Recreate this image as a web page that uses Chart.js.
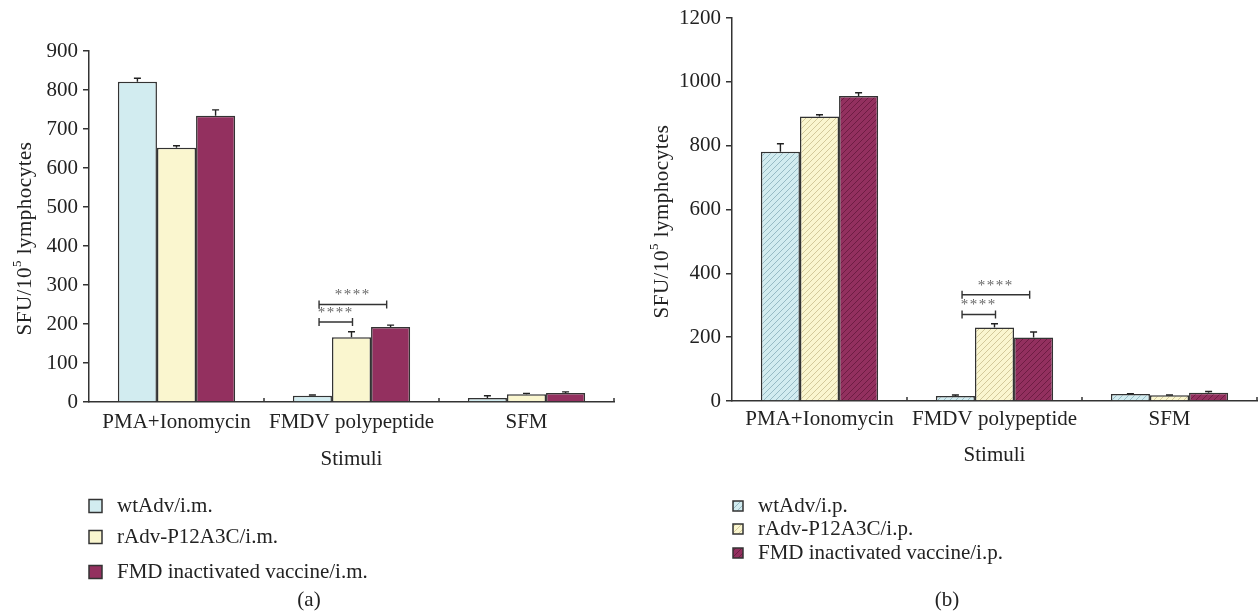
<!DOCTYPE html>
<html>
<head>
<meta charset="utf-8">
<script src="https://cdn.jsdelivr.net/npm/chart.js@4"></script>
<style>
  body { margin: 0; background: #fff; }
  #wrap { position: relative; width: 1260px; height: 614px; }
  canvas { position: absolute; top: 0; }
  #chartA { left: 0; }
  #chartB { left: 630px; }
</style>
</head>
<body>
<div id="wrap">
  <canvas id="chartA" width="630" height="614"></canvas>
  <canvas id="chartB" width="630" height="614"></canvas>
</div>
<script>
// Stimuli on the x axis
const categories = ['PMA+Ionomycin', 'FMDV polypeptide', 'SFM'];

// (a) intramuscular groups
const labelsA = ['wtAdv/i.m.', 'rAdv-P12A3C/i.m.', 'FMD inactivated vaccine/i.m.'];
const wtAdvA = [821, 16, 10];
const wtAdvAErr = [9, 2, 6];
const rAdvA = [652, 166, 20];
const rAdvAErr = [5, 14, 2];
const fmdA = [734, 192, 23];
const fmdAErr = [15, 5, 3];
const yTicksA = [0, 100, 200, 300, 400, 500, 600, 700, 800, 900];
// significance brackets: dataset from -> to, within category, at value y
const bracketsA = [
  { cat: 1, from: 0, to: 1, y: 205, text: '****' },
  { cat: 1, from: 0, to: 2, y: 250, text: '****' }
];

// (b) intraperitoneal groups
const labelsB = ['wtAdv/i.p.', 'rAdv-P12A3C/i.p.', 'FMD inactivated vaccine/i.p.'];
const wtAdvB = [781, 16, 22];
const wtAdvBErr = [25, 3, 1];
const rAdvB = [891, 230, 18];
const rAdvBErr = [6, 12, 1];
const fmdB = [956, 199, 26];
const fmdBErr = [10, 17, 4];
const yTicksB = [0, 200, 400, 600, 800, 1000, 1200];
const bracketsB = [
  { cat: 1, from: 0, to: 1, y: 271, text: '****' },
  { cat: 1, from: 0, to: 2, y: 333, text: '****' }
];

const fills = ['#d2ecf0', '#faf6cf', '#93305f'];
const hatchInk = ['#7ea6b1', '#c2b683', '#5e1638'];
const SERIF = '"Liberation Serif", "Times New Roman", serif';

Chart.defaults.font.family = SERIF;
Chart.defaults.color = '#222';

function hatch(bg, ink) {
  const s = 6;
  const c = document.createElement('canvas');
  c.width = s; c.height = s;
  const g = c.getContext('2d');
  g.fillStyle = bg;
  g.fillRect(0, 0, s, s);
  g.strokeStyle = ink;
  g.lineWidth = 0.7;
  g.beginPath();
  g.moveTo(0, s); g.lineTo(s, 0);
  g.moveTo(-1, 1); g.lineTo(1, -1);
  g.moveTo(s - 1, s + 1); g.lineTo(s + 1, s - 1);
  g.stroke();
  return g.createPattern(c, 'repeat');
}

function makeChart(id, opt) {
  const ctx = document.getElementById(id).getContext('2d');
  const bg = opt.hatched ? fills.map((f, i) => hatch(f, hatchInk[i])) : fills;

  const extras = {
    id: 'extras' + id,
    afterDatasetsDraw(chart) {
      const c = chart.ctx;
      const x = chart.scales.x, y = chart.scales.y;
      c.save();
      // inward boundary ticks on the x axis
      c.strokeStyle = '#333';
      c.lineWidth = 1.5;
      for (let i = 1; i <= categories.length; i++) {
        const px = x.getPixelForValue(i - 0.5);
        c.beginPath();
        c.moveTo(px, y.bottom);
        c.lineTo(px, y.bottom - 4);
        c.stroke();
      }
      // error bars
      c.strokeStyle = '#222';
      c.lineWidth = 1.4;
      opt.errors.forEach((errs, d) => {
        chart.getDatasetMeta(d).data.forEach((bar, i) => {
          const top = y.getPixelForValue(opt.values[d][i] + errs[i]);
          c.beginPath();
          c.moveTo(bar.x, bar.y);
          c.lineTo(bar.x, top);
          c.moveTo(bar.x - 3.5, top);
          c.lineTo(bar.x + 3.5, top);
          c.stroke();
        });
      });
      // significance brackets
      opt.brackets.forEach(b => {
        const b0 = chart.getDatasetMeta(b.from).data[b.cat];
        const b1 = chart.getDatasetMeta(b.to).data[b.cat];
        const x0 = b0.x + b0.width * 0.17;
        const x1 = b1.x - (b.to === 2 ? b1.width * 0.1 : -1);
        const py = y.getPixelForValue(b.y);
        c.strokeStyle = '#333';
        c.lineWidth = 1.4;
        c.beginPath();
        c.moveTo(x0, py); c.lineTo(x1, py);
        c.moveTo(x0, py - 4); c.lineTo(x0, py + 4);
        c.moveTo(x1, py - 4); c.lineTo(x1, py + 4);
        c.stroke();
        c.fillStyle = '#666';
        c.font = '15px ' + SERIF;
        c.letterSpacing = '1.5px';
        c.textAlign = 'center';
        c.textBaseline = 'middle';
        c.fillText(b.text, (x0 + x1) / 2, py - 9);
        c.letterSpacing = '0px';
      });
      c.restore();
    },
    afterDraw(chart) {
      const c = chart.ctx;
      const a = chart.chartArea;
      c.save();
      c.fillStyle = '#222';
      // y axis title with superscript
      const big = '21px ' + SERIF, small = '13px ' + SERIF;
      c.letterSpacing = '0.5px';
      c.font = big;
      const w1 = c.measureText('SFU/10').width;
      const w3 = c.measureText(' lymphocytes').width;
      c.font = small;
      const w2 = c.measureText('5').width;
      const total = w1 + w2 + w3;
      c.translate(opt.titleX, (a.top + a.bottom) / 2 + 12);
      c.rotate(-Math.PI / 2);
      c.textBaseline = 'middle';
      c.textAlign = 'left';
      let px = -total / 2;
      c.font = big; c.fillText('SFU/10', px, 0); px += w1;
      c.font = small; c.fillText('5', px, -7); px += w2;
      c.font = big; c.fillText(' lymphocytes', px, 0);
      c.setTransform(1, 0, 0, 1, 0, 0);
      c.letterSpacing = '0px';
      // x axis title
      c.font = '21px ' + SERIF;
      c.textAlign = 'center';
      c.fillText('Stimuli', (a.left + a.right) / 2, opt.stimuliY);
      // legend
      const L = opt.legend;
      c.textAlign = 'left';
      opt.labels.forEach((lab, i) => {
        const cy = L.ys[i];
        c.fillStyle = bg[i];
        c.fillRect(L.x, cy - L.box / 2, L.box, L.box);
        c.strokeStyle = '#333';
        c.lineWidth = 1.5;
        c.strokeRect(L.x, cy - L.box / 2, L.box, L.box);
        c.fillStyle = '#222';
        c.font = '21px ' + SERIF;
        c.fillText(lab, L.textX, cy);
      });
      // caption
      c.textAlign = 'center';
      c.fillText(opt.caption, opt.captionX, 600);
      c.restore();
    }
  };

  return new Chart(ctx, {
    type: 'bar',
    data: {
      labels: categories,
      datasets: opt.values.map((v, i) => ({
        label: opt.labels[i],
        data: v,
        backgroundColor: bg[i],
        borderColor: '#333',
        borderWidth: 1.5,
        categoryPercentage: 0.67,
        barPercentage: 1.0
      }))
    },
    options: {
      responsive: false,
      animation: false,
      devicePixelRatio: 1,
      layout: { padding: { top: opt.top, right: opt.right, left: 0, bottom: 0 } },
      plugins: { legend: { display: false }, tooltip: { enabled: false } },
      scales: {
        x: {
          afterFit: s => { s.height = 614 - opt.bottom; },
          border: { display: true, color: '#333', width: 1.5 },
          grid: { display: false, drawTicks: false },
          ticks: { font: { size: 21 }, color: '#222', padding: opt.xPad, maxRotation: 0 }
        },
        y: {
          min: 0,
          max: opt.yTicks[opt.yTicks.length - 1],
          afterBuildTicks: s => { s.ticks = opt.yTicks.map(v => ({ value: v })); },
          afterFit: s => { s.width = opt.left; },
          border: { display: true, color: '#333', width: 1.5 },
          grid: { display: true, drawOnChartArea: false, drawTicks: true, tickLength: 6, color: '#333', lineWidth: 1.5 },
          ticks: { font: { size: 21 }, color: '#222', padding: 5, callback: v => String(v) }
        }
      }
    },
    plugins: [extras]
  });
}

makeChart('chartA', {
  values: [wtAdvA, rAdvA, fmdA],
  errors: [wtAdvAErr, rAdvAErr, fmdAErr],
  labels: labelsA,
  yTicks: yTicksA,
  brackets: bracketsA,
  hatched: false,
  top: 51, bottom: 402, left: 89, right: 16, xPad: 8,
  titleX: 25, stimuliY: 459,
  legend: { x: 89, box: 13, ys: [506, 537, 572], textX: 117 },
  caption: '(a)', captionX: 309
});

makeChart('chartB', {
  values: [wtAdvB, rAdvB, fmdB],
  errors: [wtAdvBErr, rAdvBErr, fmdBErr],
  labels: labelsB,
  yTicks: yTicksB,
  brackets: bracketsB,
  hatched: true,
  top: 18, bottom: 401, left: 102, right: 3, xPad: 6,
  titleX: 32, stimuliY: 455,
  legend: { x: 103, box: 10, ys: [506, 529, 553], textX: 128 },
  caption: '(b)', captionX: 317
});
</script>
</body>
</html>
